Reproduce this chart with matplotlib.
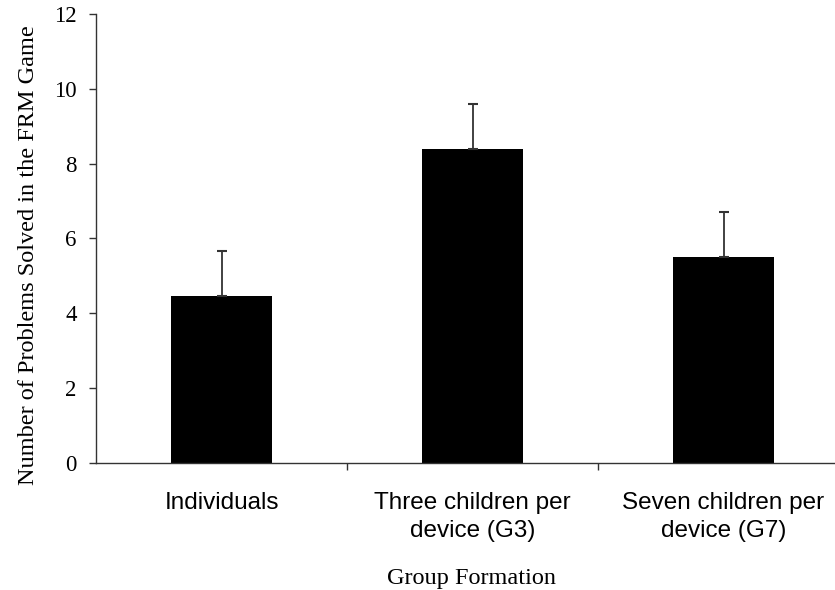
import matplotlib
matplotlib.use('Agg')
import matplotlib.pyplot as plt
import numpy as np

groups = ['Individuals', 'Three children per\ndevice (G3)', 'Seven children per\ndevice (G7)']
means = [4.46, 8.4, 5.5]
errors = [1.2, 1.2, 1.2]

fig = plt.figure(figsize=(8.35, 5.9), dpi=100)
ax = fig.add_axes([0.115, 0.2153, 0.9018, 0.761])

x = np.arange(len(groups))
ax.bar(x, means, width=0.4, color='black', zorder=2)
ax.errorbar(x, means, yerr=[np.zeros(len(errors)), errors], fmt='none',
            ecolor='#333333', elinewidth=1.3, capsize=3.5, capthick=1.5, zorder=3)

ax.set_xlim(-0.5, 2.5)
ax.set_ylim(0, 12)
ax.set_yticks(np.arange(0, 13, 2))
ax.set_yticklabels([str(v) for v in range(0, 13, 2)], family='Liberation Serif', fontsize=16.5)

ax.set_xticks(x)
ax.set_xticklabels(groups, family='Liberation Sans', fontsize=17.5, linespacing=1.35)
ax.set_xticks([0.5, 1.5], minor=True)
ax.tick_params(axis='x', which='major', length=0, pad=21)
ax.tick_params(axis='x', which='minor', length=5, width=1, color='#333333', direction='out')
ax.tick_params(axis='y', length=5, width=1, color='#333333', direction='out', pad=9)

for s in ['top', 'right']:
    ax.spines[s].set_visible(False)
for s in ['left', 'bottom']:
    ax.spines[s].set_color('#333333')
    ax.spines[s].set_linewidth(1)

ax.set_ylabel('Number of Problems Solved in the FRM Game', family='Liberation Serif', fontsize=17.5)
ax.yaxis.set_label_coords(-0.0757, 0.464)
ax.set_xlabel('Group Formation', family='Liberation Serif', fontsize=17.5)
ax.xaxis.set_label_coords(0.498, -0.233)

fig.savefig('out.png', dpi=100)
